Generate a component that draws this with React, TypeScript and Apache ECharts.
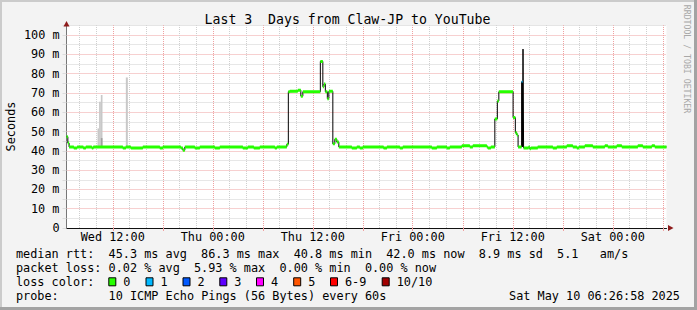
import React, { useEffect, useRef } from 'react';
import * as echarts from 'echarts';

// ---------- data ----------
const TITLE = 'Last 3  Days from Claw-JP to YouTube';
// x values are hours since Wed 00:00 (local)
const X_MIN = 6.45;
const X_MAX = 78.45;
const xLabelHours = [12, 24, 36, 48, 60, 72];
const xLabelTexts = ['Wed 12:00', 'Thu 00:00', 'Thu 12:00', 'Fri 00:00', 'Fri 12:00', 'Sat 00:00'];
const minorGridHours = [8, 10, 14, 16, 20, 22, 26, 28, 32, 34, 38, 40, 44, 46, 50, 52, 56, 58, 62, 64, 68, 70, 74, 76];
const majorGridHours = [12, 18, 24, 30, 36, 42, 48, 54, 60, 66, 72, 78];
const Y_MAX = 105;
const Y_STEP = 5;

// median rtt (ms), step values starting at each hour
const medianHours = [
  6.45, 6.61, 6.76, 7.33, 7.72, 8.47, 8.77, 9.49, 9.67, 13.21, 13.57, 14.17, 15.61, 17.65, 18.01,
  20.17, 20.41, 20.65, 21.85, 22.45, 24.25, 24.85, 27.61, 28.21, 28.93, 29.65, 31.45, 31.69, 32.89,
  33.07, 33.25, 34.21, 34.57, 34.81, 36.91, 37.21, 37.35, 37.51, 37.75, 37.93, 38.41, 38.65, 38.89, 39.13,
  40.69, 41.29, 41.65, 42.01, 44.5, 44.9, 46.45, 46.81, 50.29, 50.89, 52.09, 52.45, 53.89, 54.85, 55.21,
  56.89, 57.01, 57.37, 57.85, 58.15, 58.33, 60.04, 60.31, 60.49, 60.64, 61.06, 61.18, 61.23, 61.3,
  61.9, 62.05, 62.17, 63.0, 64.81, 65.29, 66.49, 67.21, 67.69, 67.93, 68.65, 69.61, 71.05, 71.41,
  72.49, 73.09, 75.01, 75.61, 76.69, 77.05,
];
const medianValues = [
  47.3, 44.0, 42.0, 41.4, 42.0, 41.4, 42.0, 41.4, 42.0, 41.4, 42.0, 41.4, 42.0, 41.4, 42.0,
  41.4, 40.3, 42.0, 41.4, 42.0, 41.4, 42.0, 41.4, 42.0, 41.4, 42.0, 41.4, 42.0, 43.4,
  70.6, 70.8, 71.4, 68.3, 70.6, 86.3, 73.2, 74.6, 70.6, 67.0, 70.8, 43.6, 46.0, 44.5, 42.0,
  41.4, 42.0, 41.4, 42.0, 41.4, 42.0, 41.4, 42.0, 41.4, 42.0, 41.4, 42.0, 42.6, 42.0, 42.6,
  42.0, 41.4, 42.0, 56.5, 65.8, 70.6, 57.2, 49.4, 48.2, 42.0, 75.8, 42.0, 92.7, 41.5,
  42.0, 41.0, 41.5, 42.0, 41.5, 42.0, 42.6, 42.0, 41.5, 42.0, 42.6, 42.0, 42.6, 42.0,
  42.6, 42.0, 42.6, 42.0, 42.6, 42.0,
];
// samples with packet loss: [hour, lost pings]
const lossSamples = [[61.06, 1]];

// smoke (individual ping spread): [fromHour, toHour, low, high]
const smokeOuter = [
  [10.17, 10.36, 42, 51.6],
  [10.36, 10.57, 42, 65.4],
  [10.57, 10.77, 42, 68.9],
  [13.57, 13.81, 42, 78.0],
];
const smokeInner = [[10.57, 10.77, 42, 46.6]];

// legend text
const medianItems: [number, string][] = [
  [0, 'median rtt:'], [13, '45.3 ms avg'], [26, '86.3 ms max'], [39, '40.8 ms min'],
  [52, '42.0 ms now'], [65, '8.9 ms sd'], [76, '5.1'], [82, 'am/s'],
];
const lossItems: [number, string][] = [
  [0, 'packet loss:'], [13, '0.02 % avg'], [25, '5.93 % max'], [37, '0.00 % min'], [49, '0.00 % now'],
];
const lossLabels = ['0', '1', '2', '3', '4', '5', '6-9', '10/10'];
const lossColors = ['#26ff00', '#00b8ff', '#0059ff', '#5e00ff', '#ff00ff', '#ff5500', '#ff0000', '#a10000'];
const lossBoxX = [108.3, 145.5, 182.5, 219.3, 256, 293.2, 330, 381.7];
const probeText = '10 ICMP Echo Pings (56 Bytes) every 60s';
const dateText = 'Sat May 10 06:26:58 2025';
const watermark = 'RRDTOOL / TOBI OETIKER';

// ---------- styles ----------
const FONT_FAMILY = '"DejaVu Sans Mono", monospace';
const FS = 11.83;
const CW = 7.12;
const LX = 16;
const MAJOR = '#efa0a0';
const MINOR = '#cfcfcf';
const nb = (s: string) => s.replace(/ /g, '\u00A0');

function buildOption() {
  const median = medianHours.map((h, i) => [h, medianValues[i]]);
  median.push([X_MAX, medianValues[medianValues.length - 1]]);

  const lossAt = (h: number) => {
    const f = lossSamples.find((s) => Math.abs(s[0] - h) < 1e-6);
    return f ? f[1] : 0;
  };
  const green: any[] = [];
  const blue: any[] = [];
  for (let i = 0; i < medianHours.length; i++) {
    const t0 = medianHours[i];
    const t1 = i + 1 < medianHours.length ? medianHours[i + 1] : X_MAX;
    const v = medianValues[i];
    const target = lossAt(t0) === 0 ? green : blue;
    target.push([t0, v], [t1, v], [t1, '-']);
  }

  const smokeRender = (color: string) => (params: any, api: any) => {
    const p0 = api.coord([api.value(0), api.value(3)]);
    const p1 = api.coord([api.value(1), api.value(2)]);
    return {
      type: 'rect',
      shape: { x: p0[0], y: p0[1], width: p1[0] - p0[0], height: p1[1] - p0[1] },
      style: { fill: color },
    };
  };

  const textEl = (x: number, y: number, text: string, extra: any = {}) => ({
    type: 'text',
    x,
    y,
    silent: true,
    z: 50,
    style: {
      text: nb(text),
      font: `${FS}px ${FONT_FAMILY}`,
      fill: '#000',
      textAlign: 'left',
      textVerticalAlign: 'middle',
      ...extra,
    },
  });

  const graphics: any[] = [];
  // frame shading
  graphics.push(
    { type: 'rect', shape: { x: 0, y: 0, width: 697, height: 2 }, style: { fill: '#cbcbcb' }, silent: true, z: 40 },
    { type: 'rect', shape: { x: 0, y: 0, width: 2, height: 310 }, style: { fill: '#cbcbcb' }, silent: true, z: 40 },
    { type: 'rect', shape: { x: 0, y: 307, width: 697, height: 3 }, style: { fill: '#a3a3a3' }, silent: true, z: 41 },
    { type: 'rect', shape: { x: 694, y: 0, width: 3, height: 310 }, style: { fill: '#a3a3a3' }, silent: true, z: 41 },
  );
  graphics.push(
    textEl(347.5, 19, TITLE, { font: `13.2px ${FONT_FAMILY}`, textAlign: 'center' }),
    { ...textEl(11, 126.5, 'Seconds', { textAlign: 'center' }), rotation: Math.PI / 2 },
    {
      ...textEl(686.5, 59, watermark, { textAlign: 'center', font: `8.2px ${FONT_FAMILY}`, fill: '#a8a8a8' }),
      rotation: -Math.PI / 2,
    },
  );
  // axis arrows
  graphics.push(
    { type: 'polygon', shape: { points: [[63.5, 26.5], [69.5, 26.5], [66.5, 21]] }, style: { fill: '#8e1b1b' }, silent: true, z: 45 },
    { type: 'polygon', shape: { points: [[668, 225], [668, 231], [673.5, 228]] }, style: { fill: '#8e1b1b' }, silent: true, z: 45 },
  );
  const rows = [254.3, 268, 281.8, 295.6];
  medianItems.forEach(([c, t]) => graphics.push(textEl(LX + c * CW, rows[0], t)));
  lossItems.forEach(([c, t]) => graphics.push(textEl(LX + c * CW, rows[1], t)));
  graphics.push(textEl(LX, rows[2], 'loss color:'));
  lossLabels.forEach((lab, i) => {
    graphics.push({
      type: 'rect',
      shape: { x: lossBoxX[i] + 0.5, y: rows[2] - 4, width: 7, height: 8 },
      style: { fill: lossColors[i], stroke: '#000', lineWidth: 1 },
      silent: true,
      z: 50,
    });
    graphics.push(textEl(lossBoxX[i] + 15, rows[2], lab));
  });
  graphics.push(textEl(LX, rows[3], 'probe:'));
  graphics.push(textEl(LX + 13 * CW, rows[3], probeText));
  graphics.push(textEl(680, rows[3], dateText, { textAlign: 'right' }));

  return {
    animation: false,
    backgroundColor: '#f3f3f3',
    textStyle: { fontFamily: FONT_FAMILY },
    grid: {
      left: 66.5,
      top: 228 - Y_MAX * 1.93,
      width: 600,
      height: Y_MAX * 1.93,
      show: true,
      backgroundColor: '#ffffff',
      borderWidth: 0,
    },
    xAxis: {
      type: 'value',
      min: X_MIN,
      max: X_MAX,
      axisLine: { show: true, lineStyle: { color: '#111', width: 1 } },
      axisTick: { show: true, customValues: majorGridHours, length: 3, lineStyle: { color: MAJOR } },
      axisLabel: {
        customValues: xLabelHours,
        formatter: (v: number) => {
          const i = xLabelHours.findIndex((h) => Math.abs(h - v) < 1e-6);
          return i >= 0 ? xLabelTexts[i] : '';
        },
        fontFamily: FONT_FAMILY,
        fontSize: FS,
        color: '#000',
        margin: 3,
      },
      splitLine: { show: false },
    },
    yAxis: {
      type: 'value',
      min: 0,
      max: Y_MAX,
      interval: Y_STEP,
      name: '',
      axisLine: { show: true, lineStyle: { color: '#777', width: 1 } },
      axisTick: { show: true, length: 4, lineStyle: { color: '#dddddd' } },
      axisLabel: {
        formatter: (v: number) => (v % 10 === 0 ? (v === 0 ? '0' : `${v} m`) : ''),
        fontFamily: FONT_FAMILY,
        fontSize: FS,
        color: '#000',
        margin: 7,
      },
      splitLine: { show: true, lineStyle: { color: [MAJOR, MINOR], type: [1, 1], width: 1 } },
    },
    graphic: graphics,
    series: [
      {
        type: 'line',
        data: [],
        silent: true,
        z: 1,
        markLine: {
          silent: true,
          symbol: ['none', 'none'],
          label: { show: false },
          animation: false,
          lineStyle: { color: MINOR, type: [1, 1], width: 1 },
          data: minorGridHours.map((h) => ({ xAxis: h })),
        },
      },
      {
        type: 'line',
        data: [],
        silent: true,
        z: 1,
        markLine: {
          silent: true,
          symbol: ['none', 'none'],
          label: { show: false },
          animation: false,
          lineStyle: { color: MAJOR, type: [1, 1], width: 1 },
          data: majorGridHours.map((h) => ({ xAxis: h })),
        },
      },
      {
        type: 'custom',
        renderItem: smokeRender('#c8c8c8'),
        encode: { x: [0, 1], y: [2, 3] },
        data: smokeOuter,
        silent: true,
        z: 3,
      },
      {
        type: 'custom',
        renderItem: smokeRender('#9f9f9f'),
        encode: { x: [0, 1], y: [2, 3] },
        data: smokeInner,
        silent: true,
        z: 4,
      },
      {
        type: 'line',
        data: median,
        step: 'end',
        showSymbol: false,
        silent: true,
        lineStyle: { color: '#000', width: 1 },
        z: 5,
      },
      {
        type: 'line',
        data: green,
        showSymbol: false,
        connectNulls: false,
        silent: true,
        lineStyle: { color: lossColors[0], width: 3, cap: 'butt' },
        z: 6,
      },
      {
        type: 'line',
        data: blue,
        showSymbol: false,
        connectNulls: false,
        silent: true,
        lineStyle: { color: lossColors[1], width: 2, cap: 'butt' },
        z: 6,
      },
    ],
  };
}

export default function App() {
  const ref = useRef<HTMLDivElement>(null);
  useEffect(() => {
    if (!ref.current) return;
    const chart = echarts.init(ref.current, null, { renderer: 'svg' });
    chart.setOption(buildOption() as any);
    return () => chart.dispose();
  }, []);
  return <div ref={ref} style={{ position: 'fixed', left: 0, top: 0, width: 697, height: 310 }} />;
}
